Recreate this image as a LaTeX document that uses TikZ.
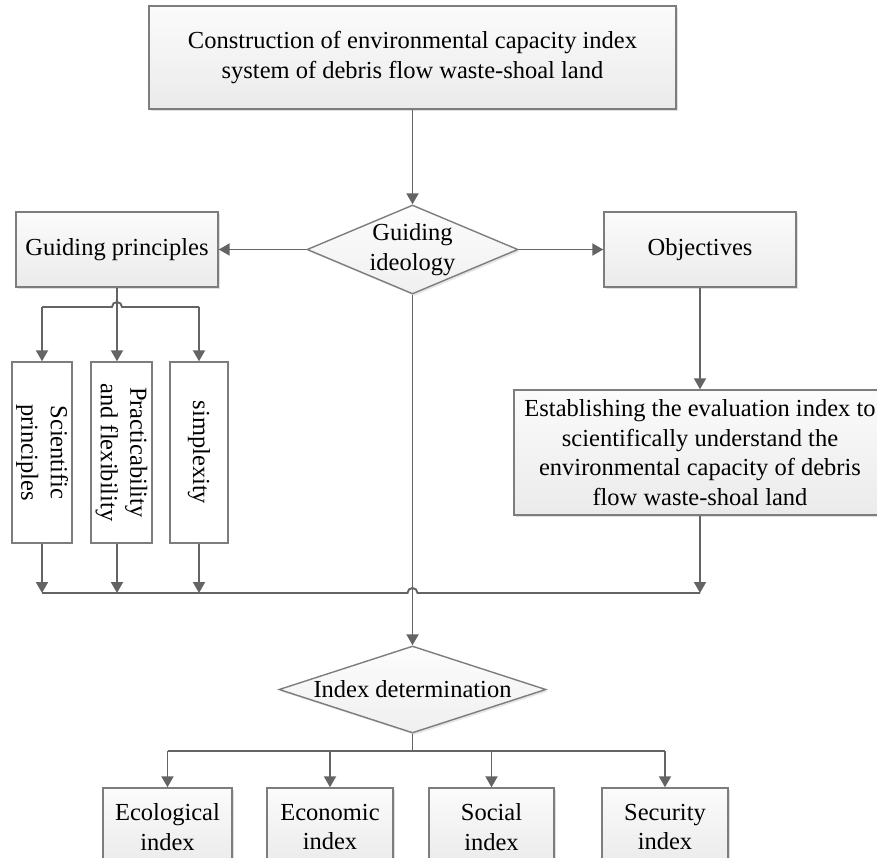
\documentclass[tikz,border=0pt]{standalone}
\usepackage{fontspec}
\setmainfont{Liberation Serif}
\usepackage{graphicx}
\usetikzlibrary{positioning,shapes.geometric,arrows.meta,shadows}

\definecolor{linegray}{RGB}{100,100,100}
\definecolor{edgegray}{RGB}{125,125,125}

\begin{document}
\begin{tikzpicture}[x=1pt,y=-1pt,
    every node/.style={font=\fontsize{24.5}{29.5}\selectfont,inner sep=0pt,align=center},
    box/.style={draw=edgegray,line width=1.4pt,top color=gray!3,bottom color=gray!16,
        drop shadow={shadow xshift=2pt,shadow yshift=-2pt,opacity=.25}},
    vbox/.style={draw=edgegray,line width=1.4pt,fill=white,minimum height=181},
    dia/.style={diamond,draw=edgegray,line width=1.4pt,top color=gray!2,bottom color=gray!12,
        drop shadow={shadow xshift=2pt,shadow yshift=-2pt,opacity=.2}},
    wire/.style={draw=linegray,line width=1.9pt},
    link/.style={wire,-{Triangle[length=11pt,width=12pt]}}]
    \useasboundingbox (0,0) rectangle (877,858);
    %%%%% THE TOP PART
    \node[box,minimum width=527,minimum height=103] (TOP) at (412.5,57.5)
        {Construction of environmental capacity index\\system of debris flow waste-shoal land};
    \node[dia,minimum width=211,minimum height=89,
        label={[name=IDEOTXT]center:Guiding\\ideology}] (IDEO) at (412.5,249.5) {};
    \node[box,minimum width=202,minimum height=75] (PRIN) at (117,249.5) {Guiding principles};
    \node[box,minimum width=192,minimum height=75] (OBJ) at (700,249.5) {Objectives};
    \node[box,minimum width=372,minimum height=125] (EST) at (700,452.5)
        {Establishing the evaluation index to\\scientifically understand the\\environmental capacity of debris\\flow waste-shoal land};
    %%%%% THE PRINCIPLES
    \node[vbox,minimum width=60] (SCI) at (42,452.5)
        {\rotatebox{-90}{\begin{tabular}{@{}c@{}}Scientific\\principles\end{tabular}}};
    \node[vbox,minimum width=61] (PRAC) at (121.5,452.5)
        {\rotatebox{-90}{\begin{tabular}{@{}c@{}}Practicability\\and flexibility\end{tabular}}};
    \node[vbox,minimum width=58] (SIMP) at (199,452.5) {\rotatebox{-90}{simplexity}};
    %%%%% THE INDEXES
    \node[dia,minimum width=267,minimum height=87,
        label={[name=IDXTXT]center:Index determination}] (IDX) at (412.5,689.5) {};
    \node[box,minimum width=129,minimum height=78] (ECO) at (167.5,827) {Ecological\\index};
    \node[box,minimum width=126,minimum height=78] (ECON) at (330,827) {Economic\\index};
    \node[box,minimum width=125,minimum height=78] (SOC) at (491.5,827) {Social\\index};
    \node[box,minimum width=126,minimum height=78] (SEC) at (665,827) {Security\\index};
    % bus lines
    \coordinate (BUSA) at (117,307);
    \coordinate (BUSB) at (412.5,593);
    \coordinate (BUSC) at (412.5,751);
    %%%% LINKS
    \draw[link] (TOP) -- (IDEO);
    \draw[link] (IDEO.west) -- (PRIN.east);
    \draw[link] (IDEO.east) -- (OBJ.west);
    \draw[link] (OBJ.south) -- (OBJ.south |- EST.north);
    \draw[wire] (SCI.north |- BUSA) -- ([xshift=-5pt]BUSA) arc[start angle=180,end angle=360,radius=5]
        -- (SIMP.north |- BUSA);
    \draw[link] (PRIN.south) -- (PRIN.south |- PRAC.north);
    \draw[link] (SCI.north |- BUSA) -- (SCI.north);
    \draw[link] (SIMP.north |- BUSA) -- (SIMP.north);
    \draw[wire] (SCI.south |- BUSB) -- ([xshift=-5pt]BUSB) arc[start angle=180,end angle=360,radius=5]
        -- (EST.south |- BUSB);
    \draw[link] (SCI.south) -- (SCI.south |- BUSB);
    \draw[link] (PRIN.south |- PRAC.south) -- (PRIN.south |- BUSB);
    \draw[link] (SIMP.south) -- (SIMP.south |- BUSB);
    \draw[link] (EST.south) -- (EST.south |- BUSB);
    \draw[link] (IDEO.south) -- (IDX.north);
    \draw[wire] (IDX.south) -- (BUSC);
    \draw[wire] (ECO.north |- BUSC) -- (SEC.north |- BUSC);
    \draw[link] (ECO.north |- BUSC) -- (ECO.north);
    \draw[link] (ECON.north |- BUSC) -- (ECON.north);
    \draw[link] (SOC.north |- BUSC) -- (SOC.north);
    \draw[link] (SEC.north |- BUSC) -- (SEC.north);
\end{tikzpicture}
\end{document}
